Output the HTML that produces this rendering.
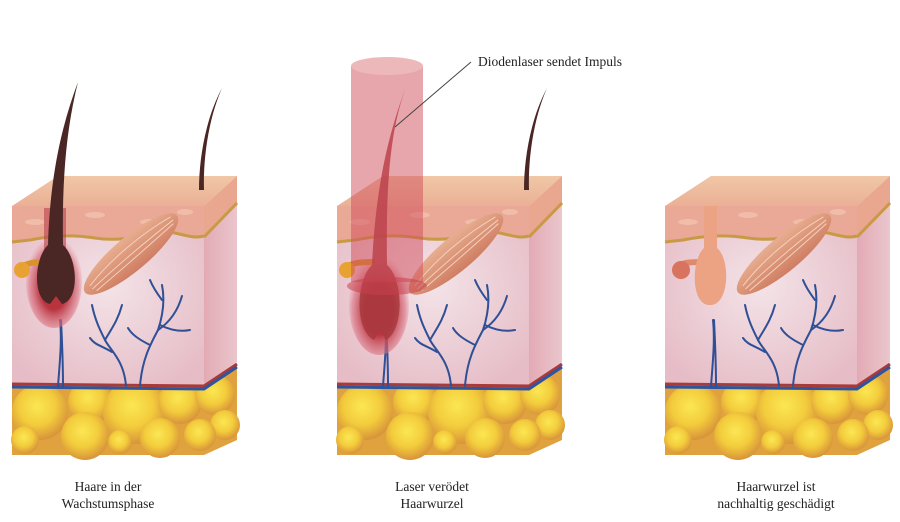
<!DOCTYPE html>
<html><head><meta charset="utf-8"><style>
html,body{margin:0;padding:0;background:#fff;width:900px;height:522px;overflow:hidden}
svg{display:block}
text{font-family:"Liberation Serif",serif;fill:#222}
</style></head><body>
<svg width="900" height="522" viewBox="0 0 900 522" xmlns="http://www.w3.org/2000/svg">
<defs>
<radialGradient id="fat" cx="45%" cy="40%" r="60%"><stop offset="0" stop-color="#fbe752"/><stop offset="0.55" stop-color="#f3cc3c"/><stop offset="1" stop-color="#d8943a"/></radialGradient>
<radialGradient id="derm" cx="50%" cy="45%" r="65%"><stop offset="0" stop-color="#f3e3e8"/><stop offset="1" stop-color="#e6bcc6"/></radialGradient>
<linearGradient id="top" x1="0" y1="0" x2="0" y2="1"><stop offset="0" stop-color="#f0c7a6"/><stop offset="1" stop-color="#eab096"/></linearGradient>
<linearGradient id="side" x1="0" y1="0" x2="1" y2="0"><stop offset="0" stop-color="#e3aab5"/><stop offset="1" stop-color="#eac6cc"/></linearGradient>
<radialGradient id="glow" cx="50%" cy="55%" r="55%"><stop offset="0.45" stop-color="#b8343f"/><stop offset="0.8" stop-color="#d9707e" stop-opacity="0.6"/><stop offset="1" stop-color="#e9a4b0" stop-opacity="0"/></radialGradient>
<linearGradient id="musc" x1="0" y1="0" x2="0" y2="1"><stop offset="0" stop-color="#e8ae90"/><stop offset="1" stop-color="#cf7d62"/></linearGradient>
<g id="base">
  <polygon points="12,385 204,388 237,365 237,440 204,455 12,455" fill="#dfa23e"/>
  <g fill="url(#fat)">
    <circle cx="40" cy="412" r="28"/><circle cx="90" cy="402" r="22"/><circle cx="135" cy="412" r="32"/><circle cx="180" cy="402" r="22"/><circle cx="215" cy="395" r="20"/>
    <circle cx="225" cy="425" r="15"/><circle cx="25" cy="440" r="14"/><circle cx="85" cy="436" r="24"/><circle cx="160" cy="438" r="20"/><circle cx="200" cy="435" r="16"/><circle cx="120" cy="442" r="12"/>
  </g>
  <polygon points="204,206 237,176 237,362 204,385" fill="url(#side)"/>
  <polygon points="204,206 237,176 237,203 204,237" fill="#e8a78e"/>
  <path d="M204,237 L237,203" stroke="#c99a45" stroke-width="3"/>
  <rect x="12" y="206" width="192" height="179" fill="url(#derm)"/>
  <path d="M12,206 H204 V236 C190,240 175,230 160,232 C140,236 120,242 95,238 C70,234 50,236 30,240 L12,242 Z" fill="#eaa897"/>
  <path d="M12,242 L30,240 C50,236 70,234 95,238 C120,242 140,236 160,232 C175,230 190,240 204,236" fill="none" stroke="#c99a45" stroke-width="3"/>
  <g fill="#f4c6b4" opacity="0.7"><ellipse cx="35" cy="222" rx="10" ry="3"/><ellipse cx="95" cy="215" rx="10" ry="3"/><ellipse cx="150" cy="222" rx="10" ry="3"/><ellipse cx="185" cy="212" rx="8" ry="3"/></g>
  <polygon points="12,206 58,176 237,176 204,206" fill="url(#top)"/>
  <path d="M12,384 L204,386 L237,364" fill="none" stroke="#a83a3a" stroke-width="3"/>
  <path d="M12,387 L204,389 L237,367" fill="none" stroke="#2e55a2" stroke-width="3"/>
  <g fill="none" stroke="#2f4f96" stroke-width="2" stroke-linecap="round">
    <path d="M126,386 C124,360 110,350 105,340 C100,330 95,320 92,305"/>
    <path d="M105,340 C112,328 118,320 122,305"/>
    <path d="M112,352 C100,345 95,345 90,338"/>
    <path d="M140,386 C142,360 150,345 158,330 C163,315 165,300 162,285"/>
    <path d="M158,330 C170,322 178,310 182,296"/>
    <path d="M150,345 C140,340 132,335 128,328"/>
    <path d="M160,325 C170,330 180,332 190,330"/>
    <path d="M162,300 C156,292 152,285 150,280"/>
    <path d="M58,386 C60,360 62,340 60,320"/><path d="M63,386 C63,360 62,340 61,320"/>
  </g>
  <g transform="translate(131,254) rotate(-40)"><ellipse cx="0" cy="0" rx="60" ry="17" fill="url(#musc)"/>
   <path d="M-52,-2 C-20,-9 20,-9 54,-3 M-52,2 C-20,0 20,0 54,1 M-50,6 C-20,6 20,5 52,4" stroke="#f3d0bc" stroke-width="1" fill="none"/></g>
</g>
</defs>

<!-- block 1 -->
<use href="#base"/>
<ellipse cx="54" cy="282" rx="28" ry="46" fill="url(#glow)"/>
<rect x="44" y="208" width="22" height="50" fill="#b8434c" opacity="0.6"/>
<path d="M18,272 C22,262 36,262 50,262" stroke="#d9932e" stroke-width="6" fill="none"/>
<circle cx="22" cy="270" r="8" fill="#e8a233"/>
<path d="M78,82 C66,130 62,180 63,245 C78,258 80,300 62,304 L56,296 L50,304 C32,300 34,258 48,245 C50,180 60,130 78,82 Z" fill="#4a2624"/>
<path d="M222,88 C208,120 203,160 204,190 L199,190 C199,160 205,120 222,88 Z" fill="#4a2624"/>

<!-- block 2 -->
<use href="#base" x="325"/>
<ellipse cx="379" cy="305" rx="30" ry="50" fill="url(#glow)"/>
<path d="M343,272 C347,262 361,262 375,262" stroke="#d9932e" stroke-width="6" fill="none"/>
<circle cx="347" cy="270" r="8" fill="#e8a233"/>
<path d="M407,84 C390,130 386,180 387,265 C404,280 404,330 386,340 L380,330 L374,340 C354,330 356,280 372,265 C376,180 390,130 407,84 Z" fill="#a83a3e" opacity="0.85"/>
<path d="M547,88 C533,120 528,160 529,190 L524,190 C524,160 530,120 547,88 Z" fill="#4a2624"/>
<rect x="351" y="66" width="72" height="216" fill="#cf4b5a" opacity="0.5"/>
<ellipse cx="387" cy="66" rx="36" ry="9" fill="#ecb8ba"/>
<ellipse cx="387" cy="286" rx="40" ry="9" fill="#c6404d" opacity="0.55"/>
<line x1="395" y1="127" x2="471" y2="62" stroke="#444" stroke-width="1"/>
<text x="478" y="66" font-size="13.5">Diodenlaser sendet Impuls</text>

<!-- block 3 -->
<use href="#base" x="653"/>
<path d="M675,272 C677,262 689,262 703,262" stroke="#e0896e" stroke-width="6" fill="none"/>
<circle cx="681" cy="270" r="9" fill="#d8735e"/>
<path d="M704,206 L717,206 L717,248 C730,258 730,302 712,305 L708,305 C690,302 692,258 704,248 Z" fill="#eba384"/>

<g font-size="13.5" text-anchor="middle">
<text x="108" y="491">Haare in der</text><text x="108" y="508">Wachstumsphase</text>
<text x="432" y="491">Laser verödet</text><text x="432" y="508">Haarwurzel</text>
<text x="776" y="491">Haarwurzel ist</text><text x="776" y="508">nachhaltig geschädigt</text>
</g>
</svg>
</body></html>
